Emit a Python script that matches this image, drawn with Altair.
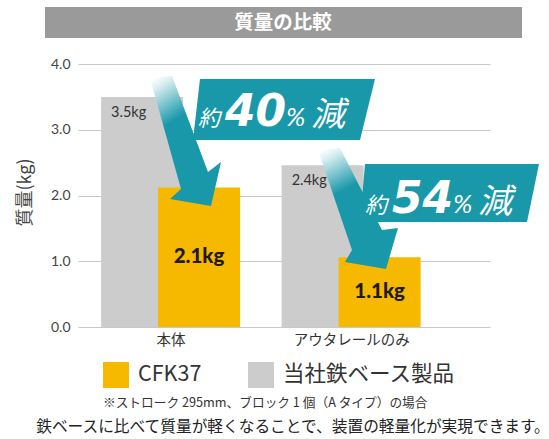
import altair as alt
import pandas as pd

# ---------------- data ----------------
categories = ["本体", "アウタレールのみ"]
series_names = ["CFK37", "当社鉄ベース製品"]
cfk_values = [2.12, 1.06]
iron_values = [3.5, 2.46]
cfk_labels = ["2.1kg", "1.1kg"]
iron_labels = ["3.5kg", "2.4kg"]
reduction_pct = ["40", "54"]
y_ticks = [0, 1, 2, 3, 4]

title_text = "質量の比較"
y_title = "質量(kg)"
note_text = "※ストローク 295mm、ブロック 1 個（A タイプ）の場合"
summary_text = "鉄ベースに比べて質量が軽くなることで、装置の軽量化が実現できます。"

rows = []
for c, v, l in zip(categories, iron_values, iron_labels):
    rows.append({"cat": c, "series": series_names[1], "value": v, "label": l})
for c, v, l in zip(categories, cfk_values, cfk_labels):
    rows.append({"cat": c, "series": series_names[0], "value": v, "label": l})
df = pd.DataFrame(rows)
df["mid"] = df["value"] / 2
iron_df = df[df["series"] == series_names[1]]
cfk_df = df[df["series"] == series_names[0]]

# ---------------- layout / style ----------------
OX, OY = 78, 64
W, H = 412, 263
TEAL = "#1898a9"
YELLOW = "#f6b900"
GRAY = "#cccccc"
JP = "Noto Sans CJK JP"
NUM = "Lato, 'Noto Sans CJK JP'"
BIG = "'DejaVu Sans', Lato"

# annotation geometry (canvas pixels)
arrow_shapes = {
    "a1": [(150, 78), (172, 76), (208, 172), (221, 162), (211, 206), (170, 199), (181, 189)],
    "a2": [(318, 150), (340, 148), (382, 230), (398, 228), (386, 269), (345, 262), (352, 250)],
}
box_shapes = {
    "b1": [(200, 79), (375, 79), (360, 140), (193, 140)],
    "b2": [(365, 164), (539, 164), (527, 222), (360, 222)],
}
box_text_anchor = [(198, 126), (365, 213)]


def poly_df(shapes):
    out = []
    for k, pts in shapes.items():
        pts = pts + [pts[0]]
        for i, (px, py) in enumerate(pts):
            out.append({"id": k, "i": i, "px": px - OX, "py": py - OY})
    return pd.DataFrame(out)


arrows_df = poly_df(arrow_shapes)
boxes_df = poly_df(box_shapes)
btext_df = pd.DataFrame(
    [{"bx": x - OX, "by": y - OY, "num": n} for (x, y), n in zip(box_text_anchor, reduction_pct)]
)

xscale = alt.Scale(type="point", domain=categories, padding=0.641, align=0.4)
yscale = alt.Scale(domain=[0, 4], nice=False)
color = alt.Color(
    "series:N",
    scale=alt.Scale(domain=series_names, range=[YELLOW, GRAY]),
    legend=alt.Legend(
        orient="none", legendX=25, legendY=298, direction="horizontal",
        title=None, symbolType="square", symbolSize=676, symbolStrokeWidth=0,
        labelFontSize=21.5, labelFont=JP, labelColor="#333333", labelOffset=9,
        columnPadding=46, padding=0, labelLimit=300,
    ),
)

x_enc = alt.X(
    "cat:N", scale=xscale, sort=categories, title=None,
    axis=alt.Axis(labelAngle=0, domain=False, ticks=False, grid=False,
                  labelFontSize=14.5, labelFont=JP, labelColor="#333333",
                  labelPadding=6),
)
y_enc = alt.Y(
    "value:Q", scale=yscale,
    axis=alt.Axis(values=y_ticks, format=".1f", domain=False, ticks=False,
                  grid=True, gridColor="#c8c8c8", labelFontSize=14,
                  labelFont=NUM, labelColor="#444444", labelPadding=8,
                  title=y_title, titleFont=JP, titleFontSize=18,
                  titleFontWeight="normal", titleColor="#444444",
                  titleX=-53, titleY=128, titleAngle=270,
                  titleAlign="center", titleBaseline="middle"),
)

one = alt.Data(values=[{}])

title_bar = alt.Chart(one).mark_rect(color="#9a9a9a").encode(
    x=alt.value(45 - OX), x2=alt.value(522 - OX),
    y=alt.value(7 - OY), y2=alt.value(38 - OY),
)
title_lbl = alt.Chart(one).mark_text(
    text=title_text, font=JP, fontSize=19.5, fontWeight="bold", color="white",
    align="center", baseline="middle",
).encode(x=alt.value(283 - OX), y=alt.value(23 - OY))

iron_bars = alt.Chart(iron_df).mark_bar(size=82, xOffset=-28.5).encode(
    x=x_enc, y=y_enc, color=color
)
cfk_bars = alt.Chart(cfk_df).mark_bar(size=82, xOffset=28.5).encode(
    x=alt.X("cat:N", scale=xscale, sort=categories),
    y=alt.Y("value:Q", scale=yscale), color=color
)
iron_text = alt.Chart(iron_df).mark_text(
    align="left", baseline="middle", dx=-59.5, dy=16, font=NUM,
    fontSize=14.5, color="#333333",
).encode(x=alt.X("cat:N", scale=xscale, sort=categories),
         y=alt.Y("value:Q", scale=yscale), text="label:N")
cfk_text = alt.Chart(cfk_df).mark_text(
    align="center", baseline="middle", dx=28.5, font=NUM,
    fontSize=20.5, fontWeight=900, color="#231a0f",
).encode(x=alt.X("cat:N", scale=xscale, sort=categories),
         y=alt.Y("mid:Q", scale=yscale), text="label:N")

grad = alt.LinearGradient(
    gradient="linear",
    stops=[alt.GradientStop(color="#ffffff", offset=0.0),
           alt.GradientStop(color="#d8eef1", offset=0.08),
           alt.GradientStop(color=TEAL, offset=0.38)],
    x1=0.1, y1=0, x2=0.45, y2=1,
)
arrows = alt.Chart(arrows_df).mark_line(
    fill=grad, filled=True, strokeWidth=0, interpolate="linear"
).encode(
    x=alt.X("px:Q", scale=None, axis=None),
    y=alt.Y("py:Q", scale=None, axis=None),
    detail="id:N", order="i:Q",
)
boxes = alt.Chart(boxes_df).mark_line(
    fill=TEAL, filled=True, strokeWidth=0
).encode(
    x=alt.X("px:Q", scale=None, axis=None),
    y=alt.Y("py:Q", scale=None, axis=None),
    detail="id:N", order="i:Q",
)


def btxt(text_val, dx, font, size, weight):
    enc = {"x": alt.X("bx:Q", scale=None, axis=None),
           "y": alt.Y("by:Q", scale=None, axis=None)}
    kw = dict(align="left", baseline="alphabetic", dx=dx, font=font,
              fontSize=size, fontWeight=weight, fontStyle="italic",
              color="white")
    if text_val is None:
        return alt.Chart(btext_df).mark_text(**kw).encode(text="num:N", **enc)
    return alt.Chart(btext_df).mark_text(text=text_val, **kw).encode(**enc)


t_yaku = btxt("約", 0, JP, 22, "normal")
t_num = btxt(None, 27, BIG, 44, "bold")
t_pct = btxt("%", 88, NUM, 26, "normal")
t_gen = btxt("減", 113, JP, 34, "normal")

note = alt.Chart(one).mark_text(
    text=note_text, font=JP, fontSize=12.7, color="#333333",
    align="left", baseline="middle",
).encode(x=alt.value(103 - OX), y=alt.value(403 - OY))
summary = alt.Chart(one).mark_text(
    text=summary_text, font=JP, fontSize=15.7, color="#222222",
    align="center", baseline="middle",
).encode(x=alt.value(293 - OX), y=alt.value(427 - OY))

chart = alt.layer(
    title_bar, title_lbl, iron_bars, cfk_bars, iron_text, cfk_text,
    arrows, boxes, t_yaku, t_num, t_pct, t_gen, note, summary,
).properties(
    width=W, height=H,
    autosize=alt.AutoSizeParams(type="none"),
    padding={"left": OX, "top": OY, "right": 549 - OX - W, "bottom": 439 - OY - H},
    background="white",
).configure_view(stroke=None)

chart.save("out.html", embed_options={"renderer": "svg", "actions": False})
